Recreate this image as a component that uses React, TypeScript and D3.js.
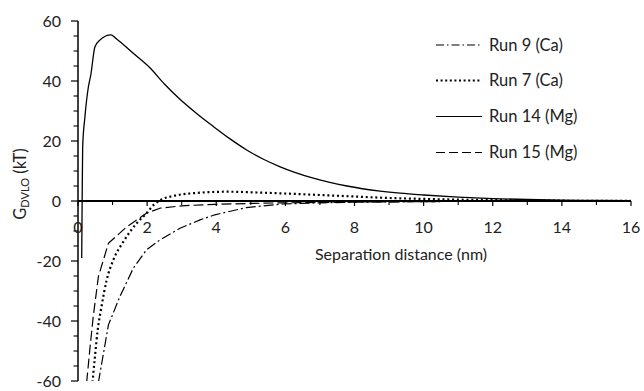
import React from "react";
import * as d3 from "d3";

const W = 644;
const H = 391;

// Run 9 (Ca) — dash-dot
const run9X = [0.59, 0.88, 1.21, 1.6, 1.98, 2.37, 2.95, 3.53, 3.96, 4.87, 5.93, 7, 8, 10, 12, 14, 16];
const run9Y = [-60.5, -41.3, -31.9, -22.4, -16.3, -13, -9.1, -6.3, -4.6, -2.2, -1.0, -0.6, -0.4, -0.2, -0.1, -0.05, -0.03];

// Run 7 (Ca) — dotted
const run7X = [0.42, 0.49, 0.57, 0.68, 0.83, 1.02, 1.31, 1.7, 1.98, 2.2, 2.4, 2.76, 3.34, 4.3, 5.27, 6.2, 7, 8, 9, 10, 11, 12, 13, 14, 15, 16];
const run7Y = [-60.5, -51.9, -43, -35.2, -26.3, -19.7, -13.6, -7.4, -4.1, -1.2, 0.4, 1.7, 2.6, 3.1, 2.8, 2.4, 2.0, 1.5, 1.0, 0.7, 0.45, 0.3, 0.2, 0.1, 0.05, 0.03];

// Run 14 (Mg) — solid
const run14X = [0.107, 0.12, 0.135, 0.2, 0.3, 0.37, 0.49, 0.64, 0.8, 0.95, 1.1, 1.59, 2.08, 2.5, 2.95, 3.45, 3.92, 4.4, 4.88, 5.35, 5.85, 6.81, 7.78, 8.74, 9.32, 10, 11, 12, 13, 14, 15, 16];
const run14Y = [-19, 0, 18, 28, 38, 42, 51.4, 53.7, 55, 55.4, 54.2, 49.3, 44.4, 39.0, 33.9, 29.0, 24.8, 20.7, 17, 14, 11.4, 7.6, 5, 3.3, 2.6, 2, 1.3, 0.8, 0.5, 0.3, 0.2, 0.1];

// Run 15 (Mg) — dashed
const run15X = [0.25, 0.35, 0.44, 0.59, 0.88, 1.41, 1.98, 2.37, 3.0, 3.96, 5, 6, 8, 10, 12, 14, 16];
const run15Y = [-60.5, -48.6, -38.6, -25.2, -14.1, -8.6, -4.1, -2.4, -1.6, -1.1, -0.8, -0.6, -0.35, -0.2, -0.1, -0.05, -0.03];

const xTicks = [0, 2, 4, 6, 8, 10, 12, 14, 16];
const yTicks = [60, 40, 20, 0, -20, -40, -60];
const legendLabels = ["Run 9 (Ca)", "Run 7 (Ca)", "Run 14 (Mg)", "Run 15 (Mg)"];

const FONT = "Lato, 'Open Sans', sans-serif";
const TEXT = "#222";

export default function App() {
  const x = d3.scaleLinear().domain([0, 16]).range([78, 631]);
  const y = d3.scaleLinear().domain([-60, 60]).range([381, 21]);

  const zip = (xs: number[], ys: number[]) => xs.map((v, i) => [v, ys[i]] as [number, number]);
  const lineLin = d3
    .line<[number, number]>()
    .x((d) => x(d[0]))
    .y((d) => y(d[1]))
    .curve(d3.curveLinear);
  const lineSmooth = d3
    .line<[number, number]>()
    .x((d) => x(d[0]))
    .y((d) => y(d[1]))
    .curve(d3.curveMonotoneX);

  const series = [
    { data: zip(run9X, run9Y), dash: "10,3,2,3", width: 1.2, smooth: false },
    { data: zip(run7X, run7Y), dash: "2,2.8", width: 2.2, smooth: true },
    { data: zip(run14X, run14Y), dash: "", width: 1.3, smooth: true },
    { data: zip(run15X, run15Y), dash: "10,4", width: 1.2, smooth: false },
  ];
  const legendDash = ["8,3,1.5,3", "2,2.6", "", "9,4"];
  const legendRows = [45, 80.5, 116.5, 152.5];

  const xMinor = d3.range(1, 16, 2);
  const yMinor = d3.range(-55, 60, 5).filter((v) => v % 20 !== 0);

  return (
    <svg width={W} height={H} style={{ display: "block", position: "absolute", left: 0, top: 0 }}>
      <rect width={W} height={H} fill="#fff" />
      <defs>
        <clipPath id="plotclip">
          <rect x={x(0)} y={y(60) - 2} width={x(16) - x(0) + 2} height={y(-60) - y(60) + 2} />
        </clipPath>
      </defs>

      {/* y axis */}
      <line x1={x(0)} x2={x(0)} y1={y(60)} y2={y(-60)} stroke="#000" strokeWidth={1.5} />
      {yTicks.map((t) => (
        <g key={"yt" + t}>
          <line x1={x(0) - 7} x2={x(0)} y1={y(t)} y2={y(t)} stroke="#000" strokeWidth={1.2} />
          <text x={61} y={y(t)} dy="0.36em" textAnchor="end" fontFamily={FONT} fontSize={16} fill={TEXT}>
            {t}
          </text>
        </g>
      ))}
      {yMinor.map((t) => (
        <line key={"ym" + t} x1={x(0) - 4.5} x2={x(0)} y1={y(t)} y2={y(t)} stroke="#000" strokeWidth={1.1} />
      ))}

      {/* x axis */}
      <line x1={x(0)} x2={x(16)} y1={y(0)} y2={y(0)} stroke="#000" strokeWidth={2} />
      {xTicks.map((t) => (
        <g key={"xt" + t}>
          <line x1={x(t)} x2={x(t)} y1={y(0)} y2={y(0) + 5} stroke="#000" strokeWidth={1.2} />
          <text x={x(t)} y={233} textAnchor="middle" fontFamily={FONT} fontSize={16} fill={TEXT}>
            {t}
          </text>
        </g>
      ))}
      {xMinor.map((t) => (
        <line key={"xm" + t} x1={x(t)} x2={x(t)} y1={y(0)} y2={y(0) + 4} stroke="#000" strokeWidth={1.1} />
      ))}

      {/* series */}
      <g clipPath="url(#plotclip)">
        {series.map((s, i) => (
          <path
            key={"s" + i}
            d={(s.smooth ? lineSmooth(s.data) : lineLin(s.data)) || ""}
            fill="none"
            stroke="#000"
            strokeWidth={s.width}
            strokeDasharray={s.dash || undefined}
            strokeLinejoin="round"
          />
        ))}
      </g>

      {/* axis titles */}
      <text x={401} y={260} textAnchor="middle" fontFamily={FONT} fontSize={16} fill={TEXT}>
        Separation distance (nm)
      </text>
      <text transform="translate(26,184) rotate(-90)" textAnchor="middle" fontFamily={FONT} fontSize={16.5} fill={TEXT}>
        G
        <tspan fontSize={11} dy={3}>DVLO</tspan>
        <tspan dy={-3}> (kT)</tspan>
      </text>

      {/* legend */}
      {legendLabels.map((lab, i) => (
        <g key={"lg" + i}>
          <line
            x1={436}
            x2={482}
            y1={legendRows[i]}
            y2={legendRows[i]}
            stroke="#000"
            strokeWidth={i === 1 ? 2 : 1.2}
            strokeDasharray={legendDash[i] || undefined}
          />
          <text x={489} y={legendRows[i]} dy="0.36em" fontFamily={FONT} fontSize={16.5} fill={TEXT}>
            {lab}
          </text>
        </g>
      ))}
    </svg>
  );
}
